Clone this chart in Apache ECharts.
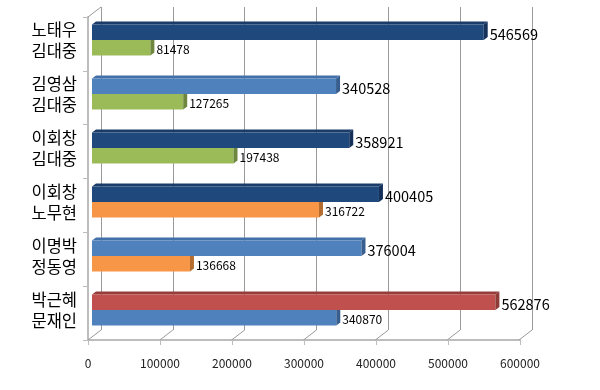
<!DOCTYPE html>
<html>
<head>
<meta charset="utf-8">
<script src="https://cdn.jsdelivr.net/npm/echarts@6/dist/echarts.min.js"></script>
<style>
html,body{margin:0;padding:0;background:#fff;}
#c{width:600px;height:390px;}
</style>
</head>
<body>
<div id="c"></div>
<script>
// ---- data ----
const categories = ['노태우\n김대중','김영삼\n김대중','이회창\n김대중','이회창\n노무현','이명박\n정동영','박근혜\n문재인'];
const winnerVotes = [546569, 340528, 358921, 400405, 376004, 562876];
const runnerVotes = [81478, 127265, 197438, 316722, 136668, 340870];
const xTicks = [0, 100000, 200000, 300000, 400000, 500000, 600000];

// ---- styles ----
const NAVY = {front:'#1F497D', top:'#1A3C68', side:'#15315A'};
const BLUE = {front:'#4F81BD', top:'#4270A8', side:'#375E8E'};
const RED = {front:'#C0504D', top:'#963D3A', side:'#8E3A37'};
const GREEN = {front:'#9BBB59', top:'#86A24B', side:'#6E873E'};
const ORANGE = {front:'#F79646', top:'#D47E38', side:'#B56C2F'};
const winnerColors = [NAVY, BLUE, NAVY, NAVY, BLUE, RED];
const runnerColors = [GREEN, GREEN, GREEN, ORANGE, ORANGE, BLUE];
const FONT = '"Noto Sans CJK KR", "Noto Sans", sans-serif';
const DX = 4, DY = 3, BH = 15.5;
const GRAY = '#9A9A9A';

function barRenderer(isWinner, colors, fontSize) {
  return function (params, api) {
    const v = api.value(0), i = api.value(1);
    const p0 = api.coord([0, i]);
    const p1 = api.coord([v, i]);
    const c = p0[1];
    const x0 = p0[0], x1 = p1[0];
    const y0 = isWinner ? c - BH : c;
    const y1 = isWinner ? c : c + BH;
    const col = colors[params.dataIndex];
    const children = [
      {type:'polygon', shape:{points:[[x0,y0],[x0+DX,y0-DY],[x1+DX,y0-DY],[x1,y0]]}, style:{fill:col.top}},
      {type:'rect', shape:{x:x0, y:y0, width:x1-x0, height:y1-y0}, style:{fill:col.front}},
      {type:'polygon', shape:{points:[[x1,y0],[x1+DX,y0-DY],[x1+DX,y1-DY],[x1,y1]]}, style:{fill:col.side}},
      {type:'text', x:x1+DX+2, y:isWinner ? c-6 : c+9.5,
        style:{text:String(v), fill:'#000', font: fontSize + 'px ' + FONT, textAlign:'left', textVerticalAlign:'middle'}}
    ];
    return {type:'group', children: children};
  };
}

const chart = echarts.init(document.getElementById('c'), null, {renderer:'canvas'});
chart.setOption({
  animation:false,
  backgroundColor:'#fff',
  grid:[
    {left:101, right:68, top:7, bottom:60},   // back wall
    {left:88, right:80, top:17, bottom:50},   // front axes
    {left:92, right:78, top:13, bottom:53}    // bars (mid depth)
  ],
  xAxis:[
    {gridIndex:0, type:'value', min:0, max:600000, interval:100000,
      axisLine:{show:false}, axisTick:{show:false}, axisLabel:{show:false},
      splitLine:{show:true, lineStyle:{color:GRAY, width:1}}},
    {gridIndex:1, type:'value', min:0, max:600000, interval:100000,
      axisLine:{show:true, lineStyle:{color:'#BDBDBD', width:2}},
      axisTick:{show:true, length:5, lineStyle:{color:'#BDBDBD'}},
      axisLabel:{show:true, margin:17, fontSize:12, color:'#222', fontFamily:FONT,
        formatter: function (v) { return String(v); }},
      splitLine:{show:false}},
    {gridIndex:2, type:'value', min:0, max:600000, show:false}
  ],
  yAxis:[
    {gridIndex:0, type:'value', min:0, max:1, show:false},
    {gridIndex:1, type:'category', data:categories, inverse:true,
      axisLine:{show:true, lineStyle:{color:'#BDBDBD', width:2}},
      axisTick:{show:true, length:5, lineStyle:{color:'#BDBDBD'}},
      axisLabel:{show:false}, splitLine:{show:false}},
    {gridIndex:2, type:'category', data:categories, inverse:true,
      axisLine:{show:false}, axisTick:{show:false}, splitLine:{show:false},
      axisLabel:{show:true, margin:15, fontSize:16.5, lineHeight:21, color:'#000', fontFamily:FONT, align:'right', padding:[0,0,5,0]}}
  ],
  series:[
    {type:'custom', xAxisIndex:0, yAxisIndex:0, z:1, silent:true,
      data: xTicks.map(t => [t]),
      renderItem: function (params, api) {
        const t = api.value(0);
        const pb = api.coord([t, 0]);
        const children = [
          {type:'line', shape:{x1:pb[0], y1:pb[1], x2:pb[0]-13, y2:pb[1]+10}, style:{stroke:GRAY, lineWidth:1}}
        ];
        if (params.dataIndex === 0) {
          const pt = api.coord([t, 1]);
          children.push({type:'line', shape:{x1:pt[0], y1:pt[1], x2:pt[0]-13, y2:pt[1]+10}, style:{stroke:GRAY, lineWidth:1}});
        }
        return {type:'group', children: children};
      }
    },
    {type:'custom', xAxisIndex:2, yAxisIndex:2, z:3, silent:true,
      data: runnerVotes.map((v, i) => [v, i]),
      renderItem: barRenderer(false, runnerColors, 12)},
    {type:'custom', xAxisIndex:2, yAxisIndex:2, z:4, silent:true,
      data: winnerVotes.map((v, i) => [v, i]),
      renderItem: barRenderer(true, winnerColors, 14.5)}
  ]
});
</script>
</body>
</html>
